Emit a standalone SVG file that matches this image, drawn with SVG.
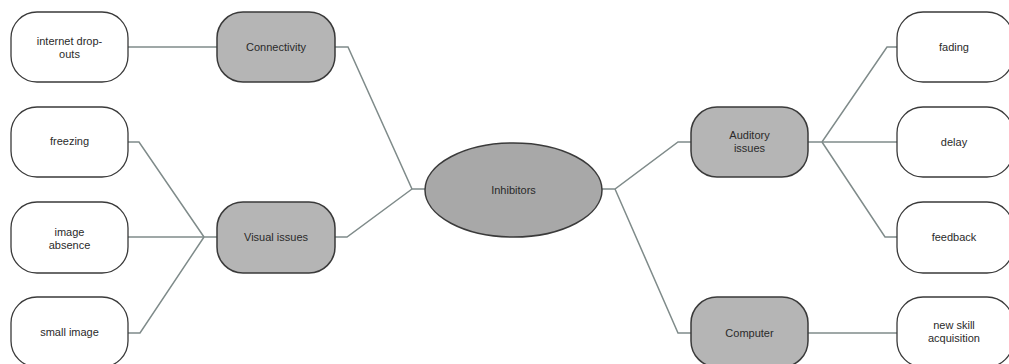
<svg xmlns="http://www.w3.org/2000/svg" width="1009" height="364" viewBox="0 0 1009 364">
  <style>
    .leaf { fill: #ffffff; stroke: #3a3a3a; stroke-width: 1.3; }
    .hub { fill: #b5b5b5; stroke: #3a3a3a; stroke-width: 1.5; }
    .link { fill: none; stroke: #7f8b8a; stroke-width: 1.5; stroke-linejoin: miter; }
    text { font-family: "Liberation Sans", Arial, sans-serif; font-size: 11px; fill: #2a2a2a; text-anchor: middle; }
  </style>
  <rect width="1009" height="364" fill="#ffffff"/>

  <g id="connectors">
    <!-- left branches -->
    <path class="link" d="M128,47 H217"/>
    <path class="link" d="M335,47 H348 L412,189 H425"/>
    <path class="link" d="M335,237 H347 L412,189"/>
    <path class="link" d="M128,142 H139 L204,237"/>
    <path class="link" d="M128,237 H217"/>
    <path class="link" d="M128,333 H140 L204,237"/>
    <!-- right branches -->
    <path class="link" d="M602,189 H615 L678,142 H691"/>
    <path class="link" d="M615,189 L678,333 H691"/>
    <path class="link" d="M808,142 H822 L887,47 H897"/>
    <path class="link" d="M822,142 H897"/>
    <path class="link" d="M822,142 L885,237 H897"/>
    <path class="link" d="M808,333 H897"/>
  </g>

  <g id="node-inhibitors">
    <ellipse class="hub" cx="513.5" cy="190" rx="88.5" ry="47" fill="#a9a9a9" style="fill:#a8a8a8"/>
    <text x="513.5" y="194">Inhibitors</text>
  </g>

  <g id="node-connectivity">
    <rect class="hub" x="217" y="12" width="118" height="70" rx="26" ry="26"/>
    <text x="276" y="51">Connectivity</text>
  </g>
  <g id="node-visual">
    <rect class="hub" x="217" y="202" width="118" height="71" rx="26" ry="26"/>
    <text x="276" y="241">Visual issues</text>
  </g>
  <g id="node-auditory">
    <rect class="hub" x="691" y="107" width="117" height="70" rx="26" ry="26"/>
    <text x="749.5" y="139">Auditory</text>
    <text x="749.5" y="152">issues</text>
  </g>
  <g id="node-computer">
    <rect class="hub" x="691" y="297" width="117" height="70" rx="26" ry="26"/>
    <text x="749.5" y="337">Computer</text>
  </g>

  <g id="node-dropouts">
    <rect class="leaf" x="11" y="12" width="117" height="70" rx="26" ry="26"/>
    <text x="69.5" y="45">internet drop-</text>
    <text x="69.5" y="58">outs</text>
  </g>
  <g id="node-freezing">
    <rect class="leaf" x="11" y="107" width="117" height="70" rx="26" ry="26"/>
    <text x="69.5" y="145">freezing</text>
  </g>
  <g id="node-absence">
    <rect class="leaf" x="11" y="202" width="117" height="71" rx="26" ry="26"/>
    <text x="69.5" y="236">image</text>
    <text x="69.5" y="249">absence</text>
  </g>
  <g id="node-small">
    <rect class="leaf" x="11" y="297" width="117" height="70" rx="26" ry="26"/>
    <text x="69.5" y="336">small image</text>
  </g>

  <g id="node-fading">
    <rect class="leaf" x="897" y="12" width="116" height="70" rx="26" ry="26"/>
    <text x="954" y="51">fading</text>
  </g>
  <g id="node-delay">
    <rect class="leaf" x="897" y="107" width="116" height="70" rx="26" ry="26"/>
    <text x="954" y="146">delay</text>
  </g>
  <g id="node-feedback">
    <rect class="leaf" x="897" y="202" width="116" height="71" rx="26" ry="26"/>
    <text x="954" y="241">feedback</text>
  </g>
  <g id="node-newskill">
    <rect class="leaf" x="897" y="297" width="116" height="70" rx="26" ry="26"/>
    <text x="954" y="329">new skill</text>
    <text x="954" y="342">acquisition</text>
  </g>
</svg>
